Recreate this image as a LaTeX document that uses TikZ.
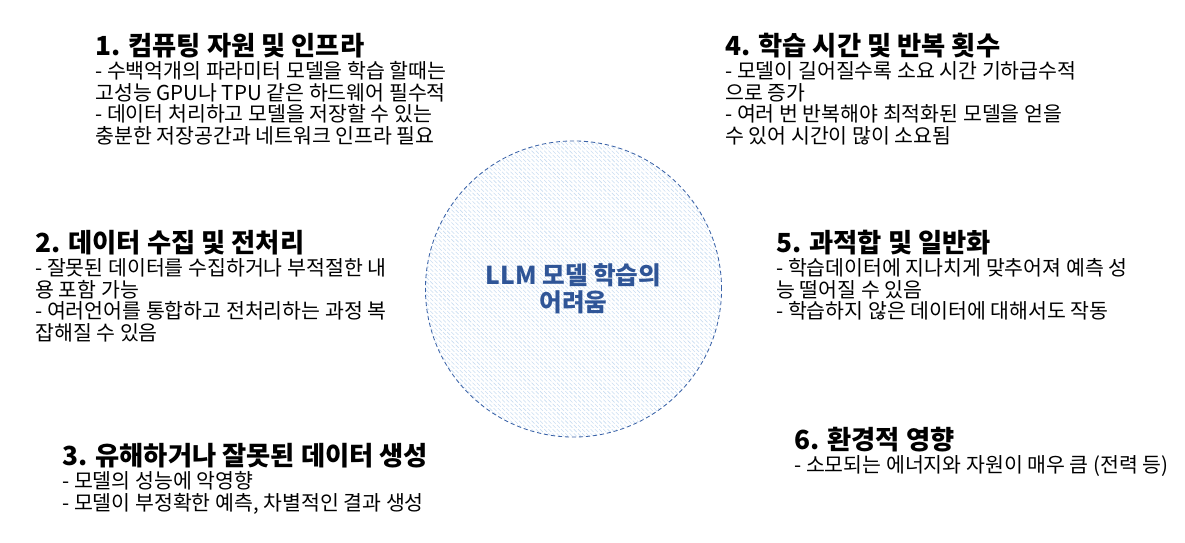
\documentclass[tikz,border=0pt]{standalone}
\usepackage{fontspec}
\setmainfont{Noto Sans CJK KR}
\usetikzlibrary{positioning,patterns}
\definecolor{corebl}{HTML}{2F5597}
\definecolor{ringbl}{HTML}{3B63A8}
\definecolor{hatchbl}{HTML}{C9DDF1}

\begin{document}
\begin{tikzpicture}[x=0.025cm, y=-0.025cm,
    ttl/.style={anchor=west, inner sep=0pt, font=\fontsize{18.7}{20}\selectfont\bfseries},
    bdy/.style={anchor=north west, inner sep=0pt, align=left,
                font=\fontsize{14.6}{15.3}\selectfont},
    core/.style={circle, draw=ringbl, dash pattern=on 3pt off 2pt, line width=0.6pt,
                 minimum size=7.4cm,
                 pattern=north west lines, pattern color=hatchbl,
                 align=center, text=corebl, inner sep=0pt,
                 font=\fontsize{17.5}{19.5}\selectfont\bfseries}
  ]
  \useasboundingbox (0,0) rectangle (1185,543);

  % 가운데
  \node[core] (core) at (573.5,289) {LLM 모델 학습의\\어려움};

  % 왼쪽
  \node[ttl] (t1) at (95,46) {1. 컴퓨팅 자원 및 인프라};
  \node[bdy, below=2pt of t1.south west, anchor=north west] (b1)
    {- 수백억개의 파라미터 모델을 학습 할때는\\
     고성능 GPU나 TPU 같은 하드웨어 필수적\\
     - 데이터 처리하고 모델을 저장할 수 있는\\
     충분한 저장공간과 네트워크 인프라 필요};

  \node[ttl] (t2) at (35,243) {2. 데이터 수집 및 전처리};
  \node[bdy, below=2pt of t2.south west, anchor=north west] (b2)
    {- 잘못된 데이터를 수집하거나 부적절한 내\\
     용 포함 가능\\
     - 여러언어를 통합하고 전처리하는 과정 복\\
     잡해질 수 있음};

  \node[ttl] (t3) at (62,456) {3. 유해하거나 잘못된 데이터 생성};
  \node[bdy, below=2pt of t3.south west, anchor=north west] (b3)
    {- 모델의 성능에 악영향\\
     - 모델이 부정확한 예측, 차별적인 결과 생성};

  % 오른쪽
  \node[ttl] (t4) at (725,46) {4. 학습 시간 및 반복 횟수};
  \node[bdy, below=2pt of t4.south west, anchor=north west] (b4)
    {- 모델이 길어질수록 소요 시간 기하급수적\\
     으로 증가\\
     - 여러 번 반복해야 최적화된 모델을 얻을\\
     수 있어 시간이 많이 소요됨};

  \node[ttl] (t5) at (776,243) {5. 과적합 및 일반화};
  \node[bdy, below=2pt of t5.south west, anchor=north west] (b5)
    {- 학습데이터에 지나치게 맞추어져 예측 성\\
     능 떨어질 수 있음\\
     - 학습하지 않은 데이터에 대해서도 작동};

  \node[ttl] (t6) at (794,440) {6. 환경적 영향};
  \node[bdy, below=2pt of t6.south west, anchor=north west] (b6)
    {- 소모되는 에너지와 자원이 매우 큼 (전력 등)};
\end{tikzpicture}
\end{document}
